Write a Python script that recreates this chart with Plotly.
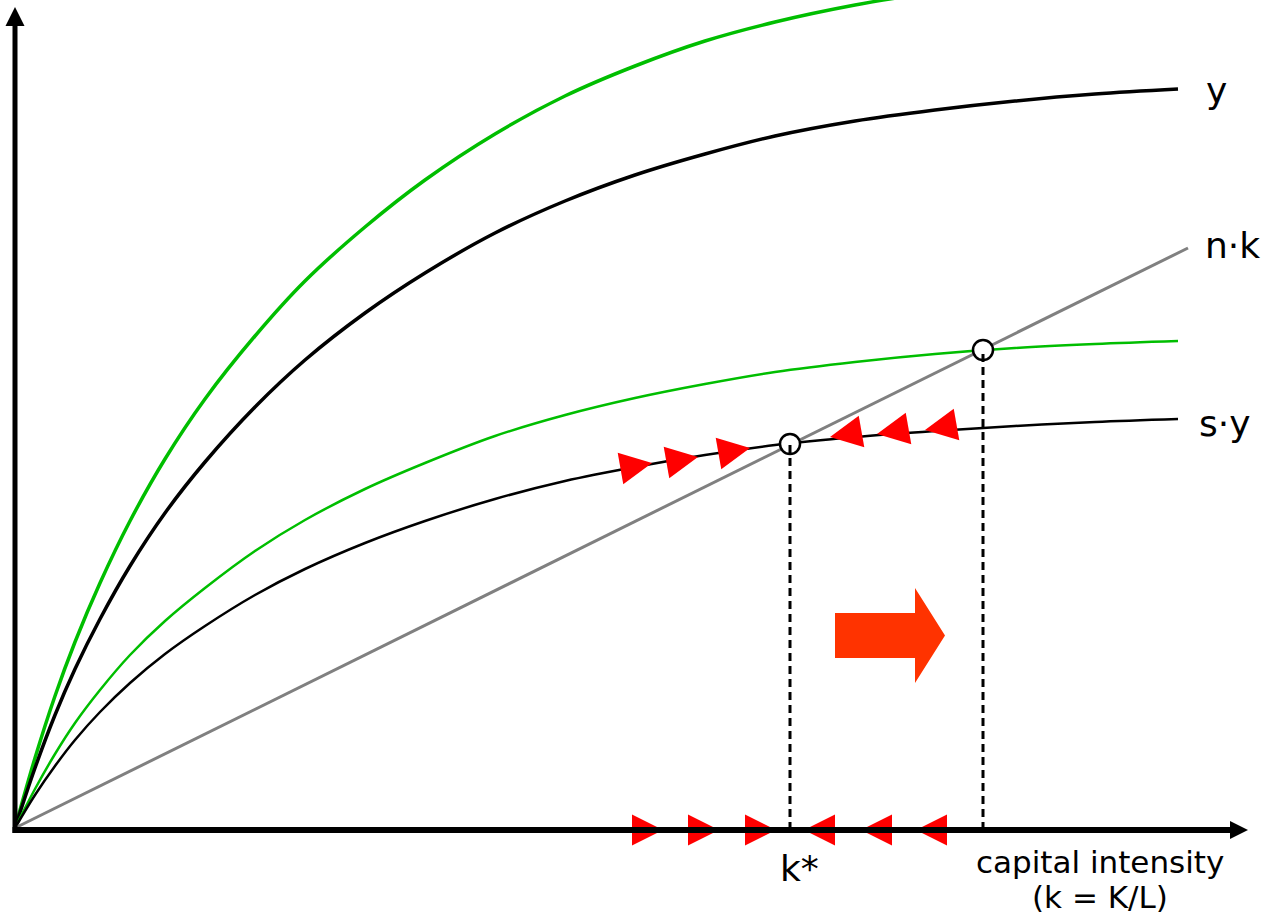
import plotly.graph_objects as go

# ---------------- data ----------------
# horizontal unit: capital intensity k ; vertical unit: output / investment per worker
K = [0, 20, 40, 60, 85, 115, 150, 190, 240, 290, 350, 410, 480, 550, 620, 690, 760, 840, 920, 1000, 1080, 1163]
Y_VAL = [0, 60, 113, 159, 209, 262, 315, 366, 421, 468, 515, 555, 595, 627, 653, 674, 692, 707, 718, 727, 734, 739]
SY_VAL = [0, 33, 62, 88, 116, 145, 174, 202, 233, 259, 285, 307, 329, 347, 361, 373, 383, 391, 397, 402, 406, 409]
SY2_VAL = [0, 39, 74, 105, 138, 173, 207, 240, 277, 308, 339, 365, 392, 413, 430, 444, 456, 466, 474, 480, 484, 487]

K_Y2 = [0, 20, 40, 60, 85, 115, 150, 190, 240, 290, 350, 410, 480, 550, 620, 690, 760, 840, 920]
Y2_VAL = [0, 70, 132, 186, 245, 307, 369, 429, 492, 547, 601, 648, 694, 732, 762, 787, 806, 823, 836]

K_NK = [0, 1173]
NK_VAL = [0, 580]

K_STEADY = [775, 968]
Y_STEADY = [384, 478]

ARR_R_K = [637, 683, 735]
ARR_R_Y = [365, 371, 380]
ARR_L_K = [815, 862, 910]
ARR_L_Y = [391, 394, 398]

AX_R_K = [648, 704, 761]
AX_L_K = [789, 846, 901]
AX_Y = -2

LABELS = ["y", "n·k", "s·y"]
LABEL_X = [1189, 1188, 1182]
LABEL_Y = [738, 583, 405]

GREEN = "#00BE00"
RED = "#FF0000"

fig = go.Figure()

# axes lines
fig.add_shape(type="line", x0=0, x1=0, y0=-5, y1=803, line=dict(color="black", width=5))
fig.add_shape(type="line", x0=-2.5, x1=1217, y0=AX_Y, y1=AX_Y, line=dict(color="black", width=6))

# dashed drop lines
for k, v in zip(K_STEADY, Y_STEADY):
    fig.add_shape(type="line", x0=k, x1=k, y0=AX_Y, y1=v,
                  line=dict(color="black", width=3, dash="8px,5px"))

# curves
spl = dict(shape="spline", smoothing=1)
fig.add_trace(go.Scatter(x=K_Y2, y=Y2_VAL, mode="lines", line=dict(color=GREEN, width=3.5, **spl)))
fig.add_trace(go.Scatter(x=K, y=Y_VAL, mode="lines", line=dict(color="black", width=3.5, **spl)))
fig.add_trace(go.Scatter(x=K, y=SY2_VAL, mode="lines", line=dict(color=GREEN, width=2.5, **spl)))
fig.add_trace(go.Scatter(x=K, y=SY_VAL, mode="lines", line=dict(color="black", width=2.5, **spl)))
fig.add_trace(go.Scatter(x=K_NK, y=NK_VAL, mode="lines", line=dict(color="#808080", width=3)))

# red direction arrows on s*y curve
fig.add_trace(go.Scatter(x=ARR_R_K, y=ARR_R_Y, mode="markers",
                         marker=dict(symbol="arrow-right", size=32, color=RED, angle=-10, line=dict(width=0))))
fig.add_trace(go.Scatter(x=ARR_L_K, y=ARR_L_Y, mode="markers",
                         marker=dict(symbol="arrow-left", size=32, color=RED, angle=-10, line=dict(width=0))))
# red arrows on axis
fig.add_trace(go.Scatter(x=AX_R_K, y=[AX_Y] * 3, mode="markers", cliponaxis=False,
                         marker=dict(symbol="arrow-right", size=31, color=RED, line=dict(width=0))))
fig.add_trace(go.Scatter(x=AX_L_K, y=[AX_Y] * 3, mode="markers", cliponaxis=False,
                         marker=dict(symbol="arrow-left", size=31, color=RED, line=dict(width=0))))

# steady state circles
fig.add_trace(go.Scatter(x=K_STEADY, y=Y_STEADY, mode="markers",
                         marker=dict(symbol="circle", size=20, color="white", line=dict(color="black", width=2.5))))

# axis arrow heads
fig.add_trace(go.Scatter(x=[0], y=[821], mode="markers", cliponaxis=False,
                         marker=dict(symbol="arrow-up", size=19, color="black", line=dict(width=0))))
fig.add_trace(go.Scatter(x=[1233], y=[AX_Y], mode="markers", cliponaxis=False,
                         marker=dict(symbol="arrow-right", size=18, color="black", line=dict(width=0))))

# big orange shift arrow
fig.add_shape(type="path",
              path="M 820,170 L 900,170 L 900,145 L 930,192.5 L 900,240 L 900,215 L 820,215 Z",
              fillcolor="#FF3300", line=dict(width=0))

FONT = "DejaVu Sans, Verdana, sans-serif"
for txt, x, y in zip(LABELS, LABEL_X, LABEL_Y):
    fig.add_annotation(x=x, y=y, text=txt, showarrow=False, xanchor="left",
                       font=dict(family=FONT, size=36, color="black"))
fig.add_annotation(x=784, y=-40, text="k*", showarrow=False,
                   font=dict(family=FONT, size=36, color="black"))
fig.add_annotation(x=1085, y=-34, text="capital intensity", showarrow=False,
                   font=dict(family=FONT, size=31, color="black"))
fig.add_annotation(x=1085, y=-69, text="(k = K/L)", showarrow=False,
                   font=dict(family=FONT, size=31, color="black"))

fig.update_layout(
    width=1266, height=919,
    margin=dict(l=0, r=0, t=0, b=0),
    paper_bgcolor="white", plot_bgcolor="white",
    showlegend=False,
    xaxis=dict(range=[-15, 1251], visible=False, fixedrange=True),
    yaxis=dict(range=[-91, 828], visible=False, fixedrange=True),
)

fig.write_html("out.html", config={"displayModeBar": False},
               post_script="document.body.style.margin='0';document.body.style.overflow='hidden';")
